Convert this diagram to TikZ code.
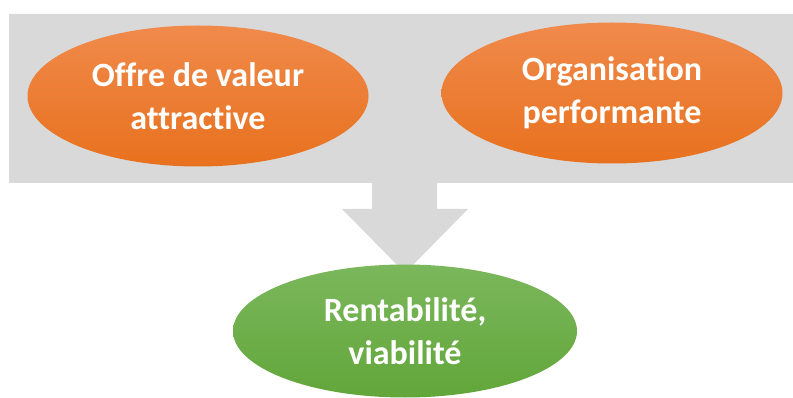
\documentclass[tikz,border=0pt]{standalone}
\usepackage{fontspec}
\setmainfont{Carlito}[Ligatures=NoCommon]
\usepackage{xcolor}
\usepackage{tikz}
\usetikzlibrary{shapes,positioning,calc}

\definecolor{bandgray}{HTML}{D9D9D9}
\definecolor{orangetop}{HTML}{F08A4B}
\definecolor{orangebot}{HTML}{E8711E}
\definecolor{greentop}{HTML}{7BB75C}
\definecolor{greenbot}{HTML}{62A63A}

\begin{document}
\begin{tikzpicture}[
    x=1pt, y=-1pt,
    goal/.style={ellipse, inner sep=0pt, text=white, align=center, font=\fontsize{34}{43}\selectfont\bfseries},
    orangegoal/.style={goal, top color=orangetop, bottom color=orangebot, minimum width=341pt, minimum height=141pt},
    greengoal/.style={goal, top color=greentop, bottom color=greenbot, minimum width=344pt, minimum height=133pt}
]
    \useasboundingbox (0,0) rectangle (793,398);

    % Gray band with the arrow going down
    \fill[bandgray] (9,14) -- (793,14) -- (793,183) -- (437,183) -- (437,209) -- (468,209)
        -- (405,273) -- (342,209) -- (372,209) -- (372,183) -- (9,183) -- cycle;

    % Top row
    \node[orangegoal] (offre) at (198,96) {Offre de valeur\\attractive};
    \node[orangegoal] (orga) at (612,93) {Organisation\\performante};

    % Result
    \node[greengoal] (renta) at (405,331) {Rentabilité,\\viabilité};

\end{tikzpicture}
\end{document}
